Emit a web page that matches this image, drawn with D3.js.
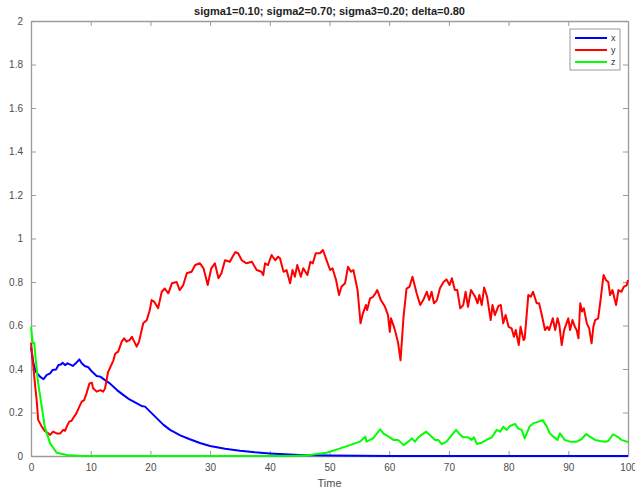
<!DOCTYPE html>
<html>
<head>
<meta charset="utf-8">
<title>sigma plot</title>
<style>
  body { margin: 0; background: #fff; }
  svg { font-family: "Liberation Sans", Arial, sans-serif; }
  .tick text { fill: #4d4d4d; font-size: 10px; }
  .axis path, .axis line { stroke: #9a9a9a; }
  .trace { fill: none; stroke-width: 2; stroke-linejoin: round; }
</style>
</head>
<body>
<div id="chart"></div>
<script src="https://cdn.jsdelivr.net/npm/d3@7"></script>
<script>
// values, [time, value]
var xSeries = [[0,0.50],[0.4,0.427],[0.8,0.388],[1.5,0.365],[2.1,0.353],[2.6,0.372],[3.2,0.38],[3.6,0.395],[4.2,0.398],[4.6,0.418],
  [5,0.421],[5.3,0.429],[5.7,0.418],[6.1,0.426],[6.5,0.421],[7,0.414],[7.5,0.426],[8.1,0.444],[8.5,0.426],[9,0.414],
  [9.6,0.408],[10.2,0.388],[11,0.368],[11.6,0.365],[12.4,0.349],[13.2,0.334],[14.4,0.303],[15.5,0.28],[16.5,0.26],
  [18.5,0.23],[19.1,0.227],[20.5,0.189],[22.2,0.143],[23.3,0.12],[25,0.095],[26.5,0.078],[28.3,0.06],[30,0.046],
  [32.5,0.033],[35,0.024],[37.5,0.017],[40,0.012],[42.5,0.008],[45,0.005],[47.5,0.003],[50,0.002],[55,0.001],[60,0],[100,0]];

var ySeries = [[0,0.52],[0.4,0.41],[0.7,0.32],[0.95,0.257],[1.2,0.166],[1.8,0.135],[2.3,0.115],[2.9,0.104],[3.2,0.097],[3.7,0.112],
  [4.3,0.104],[4.9,0.104],[5.4,0.12],[5.7,0.116],[6.1,0.142],[6.4,0.158],[6.8,0.162],[7.2,0.18],[7.6,0.196],[8.1,0.227],
  [8.5,0.25],[8.9,0.257],[9.3,0.288],[9.8,0.334],[10.2,0.337],[10.4,0.311],[11,0.296],[11.6,0.303],[12.1,0.296],[12.4,0.311],
  [12.9,0.385],[13.8,0.44],[14.1,0.47],[14.6,0.48],[15.2,0.526],[15.6,0.541],[16,0.526],[16.5,0.533],[16.9,0.548],[17.3,0.526],
  [17.7,0.503],[18.1,0.526],[18.8,0.61],[19.4,0.625],[19.9,0.671],[20.2,0.717],[20.6,0.71],[21.3,0.68],[21.9,0.755],[22.4,0.77],[23,0.748],[23.6,0.794],[24.4,0.80],[24.9,0.763],[25.5,0.786],
  [26.1,0.84],[26.9,0.847],[27.5,0.878],[28.3,0.886],[28.9,0.863],[29.6,0.786],[30.2,0.863],[30.8,0.886],[31.4,0.817],[31.9,0.84],
  [32.5,0.90],[33.3,0.893],[34.2,0.937],[34.7,0.932],[35.3,0.90],[36.1,0.886],[37,0.893],[37.8,0.855],[38.6,0.847],[38.9,0.832],
  [39.2,0.886],[39.7,0.878],[40.3,0.924],[40.9,0.90],[41.4,0.916],[41.7,0.909],[42.3,0.847],[42.8,0.855],[43.4,0.794],[43.8,0.855],
  [44.2,0.824],[44.6,0.878],[45.2,0.824],[45.6,0.863],[46.3,0.832],[46.8,0.893],[47.2,0.886],[47.7,0.932],[48.4,0.932],[48.9,0.947],
  [49.4,0.909],[50.1,0.855],[50.5,0.863],[51.1,0.809],[51.6,0.74],[52,0.778],[52.6,0.794],[53.1,0.87],[53.6,0.847],[54,0.855],
  [54.7,0.763],[55.2,0.61],[55.6,0.656],[56.1,0.694],[56.3,0.671],[56.8,0.725],[57.3,0.732],[57.7,0.748],[58,0.763],[58.6,0.717],
  [59.3,0.686],[59.8,0.648],[60.1,0.571],[60.3,0.633],[60.8,0.594],[61.1,0.564],[61.5,0.518],[61.9,0.44],[62.4,0.64],[62.9,0.77],
  [63.4,0.778],[63.9,0.824],[64.6,0.748],[65.2,0.694],[65.7,0.717],[66.3,0.755],[66.7,0.717],[67.1,0.755],[67.5,0.702],[68,0.717],
  [68.5,0.771],[69.1,0.80],[69.6,0.812],[70.1,0.786],[70.5,0.817],[71,0.763],[71.4,0.763],[71.9,0.679],[72.4,0.694],[72.8,0.755],
  [73.2,0.686],[73.7,0.763],[74.4,0.732],[74.8,0.702],[75.1,0.74],[75.5,0.694],[75.9,0.775],[76.4,0.732],[77,0.625],[77.3,0.694],
  [77.7,0.648],[78.3,0.69],[78.7,0.694],[79.1,0.61],[79.5,0.648],[80,0.594],[80.5,0.587],[80.9,0.548],[81.2,0.579],[81.7,0.51],
  [82,0.594],[82.5,0.533],[82.7,0.541],[83.3,0.74],[83.7,0.732],[84.1,0.755],[84.7,0.702],[85.1,0.702],[85.5,0.656],[86.1,0.579],
  [86.5,0.594],[86.8,0.579],[87.4,0.633],[87.8,0.579],[88.2,0.633],[88.5,0.602],[88.9,0.51],[89.3,0.579],[89.7,0.61],[90,0.633],
  [90.3,0.579],[90.7,0.625],[91.1,0.594],[91.4,0.579],[91.7,0.541],[92,0.702],[92.3,0.664],[92.6,0.679],[93.1,0.61],[93.5,0.587],
  [93.9,0.518],[94.2,0.594],[94.5,0.625],[95,0.633],[95.4,0.717],[95.9,0.832],[96.3,0.809],[96.7,0.80],[97,0.74],[97.4,0.763],
  [98,0.694],[98.4,0.763],[98.9,0.755],[99.3,0.778],[99.8,0.786],[100,0.809]];

var zSeries = [[0,0.594],[0.3,0.518],[0.55,0.52],[0.8,0.44],[1.2,0.334],[1.8,0.227],[2.3,0.135],[3.2,0.058],[4.3,0.015],[6,0.005],
  [8,0.001],[10,0],[44,0],[46.7,0.005],[49.5,0.015],[51.8,0.035],[53.4,0.05],[55.1,0.066],[56,0.089],[56.2,0.066],[57.3,0.081],
  [58.5,0.123],[59,0.104],[59.9,0.089],[60.7,0.074],[61.5,0.074],[62.4,0.05],[63.2,0.066],[63.8,0.081],[64.3,0.066],[64.9,0.086],
  [65.4,0.097],[66.2,0.112],[66.8,0.097],[67.7,0.074],[68.2,0.074],[68.8,0.055],[69.6,0.066],[70.5,0.097],[71.2,0.12],[71.9,0.097],
  [72.4,0.086],[73.2,0.086],[73.8,0.074],[74.2,0.086],[74.7,0.055],[75.5,0.061],[76.3,0.074],[77.2,0.086],[78,0.12],[78.6,0.112],
  [79.1,0.135],[79.7,0.12],[80.2,0.138],[81.1,0.147],[81.6,0.127],[82.2,0.12],[82.7,0.081],[83.5,0.135],[84.1,0.15],[85,0.158],
  [85.7,0.165],[86.4,0.135],[86.9,0.104],[87.5,0.089],[88.2,0.074],[88.6,0.104],[89.4,0.074],[90.3,0.066],[91.4,0.066],[92.2,0.077],
  [93,0.101],[93.6,0.089],[94.5,0.074],[95.3,0.069],[96.1,0.066],[96.7,0.069],[97.5,0.1],[98.4,0.086],[98.9,0.074],[99.8,0.066],[100,0.066]];

var seriesNames = ["x", "y", "z"];
var seriesColors = ["#0000ff", "#ff0000", "#00ff00"];
var xTicks = [0, 10, 20, 30, 40, 50, 60, 70, 80, 90, 100];
var yTicks = [0, 0.2, 0.4, 0.6, 0.8, 1, 1.2, 1.4, 1.6, 1.8, 2];
var titleText = "sigma1=0.10; sigma2=0.70; sigma3=0.20; delta=0.80";
var xLabel = "Time";

var width = 635, height = 490;
var margin = {top: 21, right: 7, bottom: 34, left: 31};
var innerW = width - margin.left - margin.right,
    innerH = height - margin.top - margin.bottom;

var svg = d3.select("#chart").append("svg")
    .attr("width", width)
    .attr("height", height);

var g = svg.append("g").attr("transform", "translate(" + margin.left + "," + margin.top + ")");

var x = d3.scaleLinear().domain([0, 100]).range([0, innerW]);
var y = d3.scaleLinear().domain([0, 2]).range([innerH, 0]);

var fmt = function(d) { return String(+d.toFixed(1)); };

// axes, ticks pointing inward like matlab
g.append("g").attr("class", "axis")
    .attr("transform", "translate(0," + innerH + ")")
    .call(d3.axisBottom(x).tickValues(xTicks).tickSizeInner(-5).tickSizeOuter(0).tickPadding(8).tickFormat(fmt));
g.append("g").attr("class", "axis")
    .call(d3.axisLeft(y).tickValues(yTicks).tickSizeInner(-5).tickSizeOuter(0).tickPadding(8).tickFormat(fmt));
g.append("g").attr("class", "axis")
    .call(d3.axisTop(x).tickValues(xTicks).tickSizeInner(-5).tickSizeOuter(0).tickFormat(""));
g.append("g").attr("class", "axis")
    .attr("transform", "translate(" + innerW + ",0)")
    .call(d3.axisRight(y).tickValues(yTicks).tickSizeInner(-5).tickSizeOuter(0).tickFormat(""));

g.selectAll(".axis .domain").attr("stroke", "#9a9a9a").attr("stroke-width", 1.3);

svg.append("defs").append("clipPath").attr("id", "clip")
  .append("rect").attr("x", -1).attr("y", -1).attr("width", innerW + 2).attr("height", innerH + 2);

var line = d3.line()
    .x(function(d) { return x(d[0]); })
    .y(function(d) { return y(d[1]); });

var allSeries = [xSeries, ySeries, zSeries];
g.append("g").attr("clip-path", "url(#clip)")
  .selectAll("path.trace")
  .data(allSeries)
  .enter().append("path")
    .attr("class", "trace")
    .attr("stroke", function(d, i) { return seriesColors[i]; })
    .attr("d", line);

// title and label
svg.append("text")
    .attr("x", margin.left + innerW / 2)
    .attr("y", 15)
    .attr("text-anchor", "middle")
    .attr("font-size", 11)
    .attr("font-weight", "bold")
    .attr("fill", "#222")
    .text(titleText);

svg.append("text")
    .attr("x", margin.left + innerW / 2)
    .attr("y", 487)
    .attr("text-anchor", "middle")
    .attr("font-size", 11)
    .attr("fill", "#4d4d4d")
    .text(xLabel);

// legend
var lg = g.append("g").attr("transform", "translate(" + (innerW - 58) + ",8)");
lg.append("rect")
    .attr("width", 50).attr("height", 41)
    .attr("fill", "#fff").attr("stroke", "#9a9a9a");
var items = lg.selectAll("g.item").data(seriesNames).enter().append("g")
    .attr("transform", function(d, i) { return "translate(0," + (9 + i * 12) + ")"; });
items.append("line")
    .attr("x1", 5).attr("x2", 37)
    .attr("stroke", function(d, i) { return seriesColors[i]; })
    .attr("stroke-width", 2);
items.append("text")
    .attr("x", 41).attr("dy", "0.33em")
    .attr("font-size", 9)
    .attr("fill", "#333")
    .text(function(d) { return d; });
</script>
</body>
</html>
